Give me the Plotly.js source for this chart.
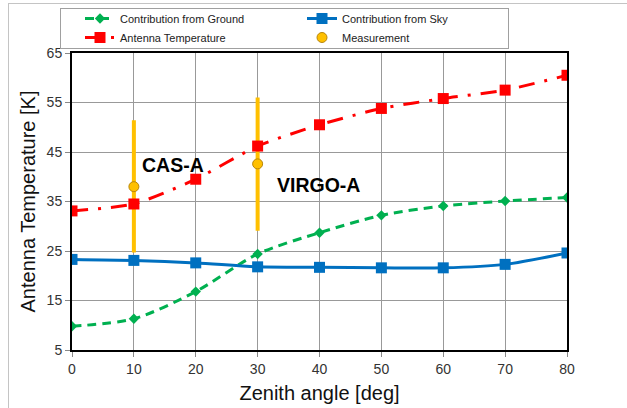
<!DOCTYPE html>
<html>
<head>
<meta charset="utf-8">
<script src="https://cdn.plot.ly/plotly-3.0.1.min.js"></script>
<style>
  html, body { margin: 0; padding: 0; background: #fff; }
  #wrap { position: relative; width: 627px; height: 408px; overflow: hidden; }
  #chart { width: 627px; height: 408px; }
  #frame { position: absolute; left: 8px; top: 3px; width: 700px; height: 500px;
           border-left: 1px solid #c4c4c4; border-top: 1px solid #c4c4c4; pointer-events: none; }
  #legendbox { position: absolute; left: 60px; top: 8px; width: 447px; height: 39px;
               border: 1px solid #a0a0a0; pointer-events: none; }
</style>
</head>
<body>
<div id="wrap">
  <div id="chart"></div>
  <div id="frame"></div>
  <div id="legendbox"></div>
</div>
<script>
// Zenith angles (deg)
const zenith = [0, 10, 20, 30, 40, 50, 60, 70, 80];

// Model contributions (K)
const groundContribution = [9.8, 11.3, 16.8, 24.4, 28.7, 32.2, 34.1, 35.1, 35.8];
const skyContribution    = [23.3, 23.1, 22.6, 21.8, 21.7, 21.6, 21.6, 22.3, 24.6];
const antennaTemperature = [33.1, 34.5, 39.5, 46.2, 50.5, 53.8, 55.8, 57.5, 60.5];

// Radio-source measurements with their uncertainty
const sourceNames   = ['CAS-A', 'VIRGO-A'];
const sourceAngles  = [10, 30];
const sourceValues  = [38.0, 42.6];
const sourceErrUp   = [13.4, 13.4];
const sourceErrDown = [13.3, 13.5];

const FONT = 'Liberation Sans, Arial, sans-serif';

const traces = [
  {
    name: 'Measurement',
    x: sourceAngles, y: sourceValues,
    type: 'scatter', mode: 'markers',
    marker: { symbol: 'circle', size: 10, color: '#FFC000', line: { color: '#B8860B', width: 1 } },
    error_y: { type: 'data', symmetric: false, array: sourceErrUp, arrayminus: sourceErrDown,
               color: '#FFC000', thickness: 4, width: 0 },
    legendrank: 4
  },
  {
    name: 'Contribution from Ground',
    x: zenith, y: groundContribution,
    type: 'scatter', mode: 'lines+markers',
    line: { color: '#00B050', width: 3, dash: '9px,6px', shape: 'spline', smoothing: 0.8 },
    marker: { symbol: 'diamond', size: 8, color: '#00B050' },
    legendrank: 1
  },
  {
    name: 'Contribution from Sky',
    x: zenith, y: skyContribution,
    type: 'scatter', mode: 'lines+markers',
    line: { color: '#0070C0', width: 3, shape: 'spline', smoothing: 0.8 },
    marker: { symbol: 'square', size: 11, color: '#0070C0' },
    legendrank: 2
  },
  {
    name: 'Antenna Temperature',
    x: zenith, y: antennaTemperature,
    type: 'scatter', mode: 'lines+markers',
    line: { color: '#FF0000', width: 3, dash: '16px,10px,3px,10px', shape: 'spline', smoothing: 0.6 },
    marker: { symbol: 'square', size: 11, color: '#FF0000' },
    legendrank: 3
  }
];

const layout = {
  width: 627, height: 408,
  margin: { l: 72, r: 60, t: 53, b: 58, autoexpand: false },
  paper_bgcolor: '#fff', plot_bgcolor: '#fff',
  font: { family: FONT, color: '#222' },
  showlegend: true,
  legend: {
    orientation: 'h', xref: 'container', yref: 'container',
    x: 80 / 627, xanchor: 'left', y: 1 - 4 / 408, yanchor: 'top',
    entrywidth: 177, entrywidthmode: 'pixels',
    borderwidth: 0, bgcolor: 'rgba(0,0,0,0)',
    font: { family: FONT, size: 11, color: '#222' },
    itemwidth: 30, tracegroupgap: 0
  },
  xaxis: {
    range: [0, 80], tickvals: zenith, ticks: 'outside', ticklen: 5, tickcolor: '#888',
    showgrid: true, gridcolor: '#999', gridwidth: 1,
    showline: true, linecolor: '#000', linewidth: 2, mirror: true, zeroline: false,
    tickfont: { family: FONT, size: 14, color: '#333' },
    title: { text: 'Zenith angle [deg]', font: { family: FONT, size: 20, color: '#111' }, standoff: 10 }
  },
  yaxis: {
    range: [5, 65], tickvals: [5, 15, 25, 35, 45, 55, 65], ticks: 'outside', ticklen: 5, tickcolor: '#888',
    showgrid: true, gridcolor: '#999', gridwidth: 1,
    showline: true, linecolor: '#000', linewidth: 2, mirror: true, zeroline: false,
    tickfont: { family: FONT, size: 14, color: '#333' },
    title: { text: 'Antenna Temperature [K]', font: { family: FONT, size: 20, color: '#111' }, standoff: 6 }
  },
  annotations: sourceNames.map((name, i) => ({
    x: sourceAngles[i], y: sourceValues[i], xref: 'x', yref: 'y',
    text: '<b>' + name + '</b>', showarrow: false,
    xanchor: 'left', yanchor: 'middle',
    xshift: i === 0 ? 6 : 17, yshift: i === 0 ? 22 : -21,
    font: { family: FONT, size: 19.5, color: '#000' }
  }))
};

Plotly.newPlot('chart', traces, layout, { displayModeBar: false, staticPlot: true });
</script>
</body>
</html>
